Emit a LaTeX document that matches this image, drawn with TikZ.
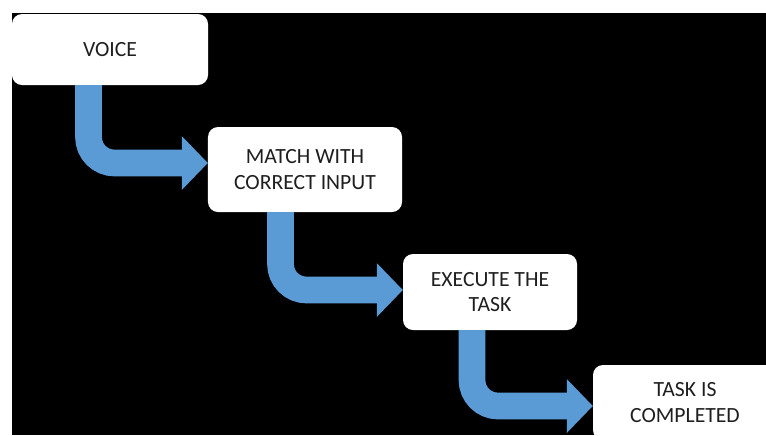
\documentclass[tikz,border=0pt]{standalone}
\usepackage{fontspec}
\setmainfont{Carlito}
\usetikzlibrary{arrows.meta, positioning}
\definecolor{flowblue}{RGB}{91,155,213}
\tikzset{
	box/.style={draw=none, fill=white, rounded corners=0.3cm, align=center, inner sep=0pt, text=black!88, font=\fontsize{18.5}{22}\selectfont},
	flow/.style={draw=flowblue, line width=0.8cm, rounded corners=0.78cm, -{Triangle[length=0.78cm, width=1.62cm, line width=0pt]}}
}

\begin{document}
\begin{tikzpicture}[x=0.03cm, y=-0.03cm]
	\useasboundingbox (0,0) rectangle (766,435);
	\clip (0,0) rectangle (766,435);
	\fill[white] (0,0) rectangle (766,435);
	\fill[black] (12,13) rectangle (766,435);
	
	\node[box, minimum width=5.88cm, minimum height=2.13cm] (voice) at (110,49.5) {VOICE};
	\node[box, minimum width=5.82cm, minimum height=2.55cm] (match) at (305,169.5) {MATCH WITH\\CORRECT INPUT};
	\node[box, minimum width=5.22cm, minimum height=2.28cm] (exec) at (490,292) {EXECUTE THE\\TASK};
	\node[box, minimum width=5.52cm, minimum height=2.25cm] (done) at (685,402.5) {TASK IS\\COMPLETED};
	
	\coordinate (t1) at (88.5,163);
	\coordinate (t2) at (280.5,290);
	\coordinate (t3) at (472,406);
	
	\draw[flow] (voice.south -| t1) |- (match.west |- t1);
	\draw[flow] (match.south -| t2) |- (exec.west |- t2);
	\draw[flow] (exec.south -| t3) |- (done.west |- t3);
	
\end{tikzpicture}
\end{document}
